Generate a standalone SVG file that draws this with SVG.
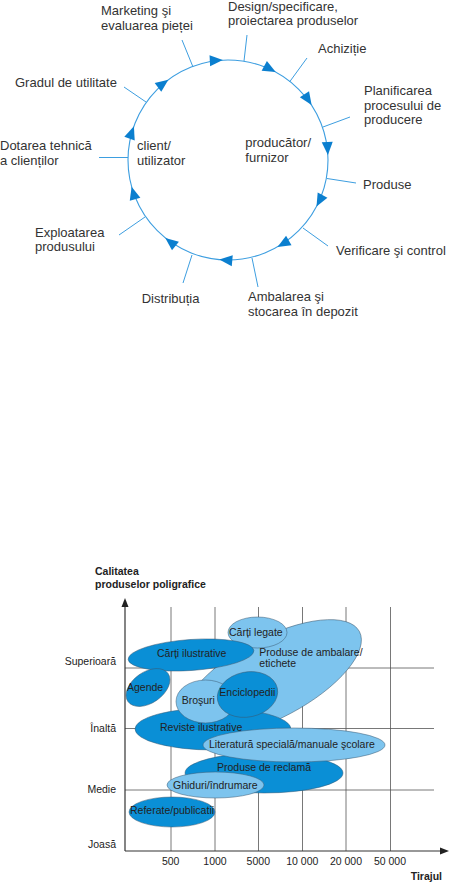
<svg xmlns="http://www.w3.org/2000/svg" xmlns:xlink="http://www.w3.org/1999/xlink" width="449" height="882" viewBox="0 0 449 882">
<style>
.t{font-family:"Liberation Sans",Arial,sans-serif;font-size:13px;fill:#333}
.c{font-family:"Liberation Sans",Arial,sans-serif;font-size:10.5px;fill:#222}
.b{font-weight:bold}
.tick{stroke:#3d9ee0;stroke-width:1;fill:none}
.ring{stroke:#3d9ee0;stroke-width:1.1;fill:none}
.dk{fill:#0a8fd6;stroke:#3a5870;stroke-width:0.5}
.lt{fill:#7dc4ee;stroke:#3a5870;stroke-width:0.5}
.grid{stroke:#555;stroke-width:0.8}
.axis{stroke:#333;stroke-width:1.2}
</style>
<defs>
<path id="ah" d="M0,0 L-13,-5.5 L-13,5.5 Z" fill="#0b7fcf"/>
</defs>
<rect width="449" height="882" fill="#fff"/>

<!-- cycle diagram -->
<g id="connectors">
<circle class="ring" cx="228" cy="160" r="100"/>
<use xlink:href="#ah" transform="translate(168.4,79.7) rotate(323.4)"/>
<use xlink:href="#ah" transform="translate(222.8,60.1) rotate(357)"/>
<use xlink:href="#ah" transform="translate(275.7,72.1) rotate(28.5)"/>
<use xlink:href="#ah" transform="translate(311.6,105.1) rotate(56.7)"/>
<use xlink:href="#ah" transform="translate(327.9,154.9) rotate(87.1)"/>
<use xlink:href="#ah" transform="translate(316.5,206.6) rotate(117.8)"/>
<use xlink:href="#ah" transform="translate(277.5,246.9) rotate(150.3)"/>
<use xlink:href="#ah" transform="translate(219.3,259.6) rotate(185)"/>
<use xlink:href="#ah" transform="translate(165.3,237.9) rotate(218.8)"/>
<use xlink:href="#ah" transform="translate(131.6,186.7) rotate(254.5)"/>
<use xlink:href="#ah" transform="translate(133.9,126.3) rotate(289.7)"/>
<line class="tick" x1="193" y1="67" x2="182" y2="40"/>
<line class="tick" x1="244" y1="61" x2="247" y2="35"/>
<line class="tick" x1="289.5" y1="82" x2="307" y2="58"/>
<line class="tick" x1="323" y1="127" x2="350" y2="117"/>
<line class="tick" x1="146" y1="102" x2="124" y2="87"/>
<line class="tick" x1="128" y1="157.5" x2="99" y2="157.5"/>
<line class="tick" x1="327" y1="178.5" x2="356" y2="183"/>
<line class="tick" x1="303" y1="228" x2="328" y2="246"/>
<line class="tick" x1="252" y1="258" x2="258" y2="287"/>
<line class="tick" x1="192" y1="255" x2="183" y2="283"/>
<line class="tick" x1="145" y1="217" x2="119" y2="235"/>
</g>

<g id="n-marketing"><text class="t" x="101" y="15">Marketing şi</text><text class="t" x="101" y="29.5">evaluarea pieței</text></g>
<g id="n-design"><text class="t" x="228" y="11">Design/specificare,</text><text class="t" x="228" y="25">proiectarea produselor</text></g>
<g id="n-achizitie"><text class="t" x="318" y="53.3">Achiziție</text></g>
<g id="n-planificarea"><text class="t" x="364" y="95">Planificarea</text><text class="t" x="364" y="109.5">procesului de</text><text class="t" x="364" y="124">producere</text></g>
<g id="n-gradul"><text class="t" x="15" y="87.3">Gradul de utilitate</text></g>
<g id="n-dotarea"><text class="t" x="0" y="150">Dotarea tehnică</text><text class="t" x="0" y="165">a clienților</text></g>
<g id="n-client"><text class="t" x="137" y="150">client/</text><text class="t" x="137" y="165">utilizator</text></g>
<g id="n-producator"><text class="t" x="245.3" y="146.7">producător/</text><text class="t" x="245.3" y="161.5">furnizor</text></g>
<g id="n-produse"><text class="t" x="363" y="189.3">Produse</text></g>
<g id="n-exploatarea"><text class="t" x="35" y="236.5">Exploatarea</text><text class="t" x="35" y="251">produsului</text></g>
<g id="n-verificare"><text class="t" x="336" y="255">Verificare şi control</text></g>
<g id="n-distributia"><text class="t" x="141.7" y="302.7">Distribuția</text></g>
<g id="n-ambalarea"><text class="t" x="248" y="300.7">Ambalarea şi</text><text class="t" x="248" y="315.7">stocarea în depozit</text></g>

<!-- chart -->
<g id="chart-axes">
<line class="grid" x1="171" y1="607" x2="171" y2="851"/>
<line class="grid" x1="215" y1="607" x2="215" y2="851"/>
<line class="grid" x1="258.5" y1="607" x2="258.5" y2="851"/>
<line class="grid" x1="302.5" y1="607" x2="302.5" y2="851"/>
<line class="grid" x1="346" y1="607" x2="346" y2="851"/>
<line class="grid" x1="390.5" y1="607" x2="390.5" y2="851"/>
<line class="grid" x1="125" y1="668" x2="434" y2="668"/>
<line class="grid" x1="125" y1="728.5" x2="434" y2="728.5"/>
<line class="grid" x1="125" y1="790" x2="434" y2="790"/>
<line class="axis" x1="125" y1="851" x2="125" y2="605"/>
<line class="axis" x1="125" y1="851" x2="442" y2="851"/>
<path d="M125,598 L121.5,607 L128.5,607 Z" fill="#222"/>
<path d="M449,851 L440,847.5 L440,854.5 Z" fill="#222"/>
<text class="c b" x="95" y="575">Calitatea</text>
<text class="c b" x="95" y="587.7">produselor poligrafice</text>
<text class="c" x="116" y="665" text-anchor="end">Superioară</text>
<text class="c" x="116" y="731.7" text-anchor="end">Înaltă</text>
<text class="c" x="116" y="792.7" text-anchor="end">Medie</text>
<text class="c" x="116" y="848" text-anchor="end">Joasă</text>
<text class="c" x="170.7" y="865" text-anchor="middle">500</text>
<text class="c" x="215" y="865" text-anchor="middle">1000</text>
<text class="c" x="258.3" y="865" text-anchor="middle">5000</text>
<text class="c" x="302.3" y="865" text-anchor="middle">10 000</text>
<text class="c" x="346" y="865" text-anchor="middle">20 000</text>
<text class="c" x="390" y="865" text-anchor="middle">50 000</text>
<text class="c b" x="442" y="880" text-anchor="end">Tirajul</text>
</g>

<g id="e-ambalare"><ellipse class="lt" cx="272" cy="678" rx="99" ry="40" transform="rotate(-28 272 678)"/></g>
<g id="e-carti-legate"><ellipse class="lt" cx="257.5" cy="632.5" rx="29.5" ry="15.5"/><text class="c" x="229" y="636.3">Cărți legate</text></g>
<g id="e-ambalare-label"><text class="c" x="259.3" y="655.7">Produse de ambalare/</text><text class="c" x="259.3" y="667.3">etichete</text></g>
<g id="e-carti-ilustrative"><ellipse class="dk" cx="191" cy="655" rx="63" ry="15.5" transform="rotate(-4 191 655)"/><text class="c" x="157" y="657.3">Cărți ilustrative</text></g>
<g id="e-agende"><ellipse class="dk" cx="148" cy="687.5" rx="24.5" ry="15.5" transform="rotate(-35 148 687.5)"/><text class="c" x="127" y="691">Agende</text></g>
<g id="e-reviste"><ellipse class="dk" cx="213" cy="729" rx="78" ry="21"/><text class="c" x="160" y="731">Reviste ilustrative</text></g>
<g id="e-reclama"><ellipse class="dk" cx="264" cy="773" rx="79" ry="20"/><text class="c" x="217" y="770.7">Produse de reclamă</text></g>
<g id="e-brosuri"><ellipse class="lt" cx="205.5" cy="701.5" rx="29.5" ry="21.5"/><text class="c" x="181.7" y="704">Broşuri</text></g>
<g id="e-enciclopedii"><ellipse class="dk" cx="247.5" cy="694.5" rx="30.5" ry="22.5" transform="rotate(-12 247.5 694.5)"/><text class="c" x="219.3" y="696">Enciclopedii</text></g>
<g id="e-literatura"><ellipse class="lt" cx="294" cy="745" rx="91" ry="17"/><text class="c" x="209" y="747.7">Literatură specială/manuale şcolare</text></g>
<g id="e-ghiduri"><ellipse class="lt" cx="215.5" cy="785" rx="48.5" ry="13"/><text class="c" x="173" y="789.3">Ghiduri/îndrumare</text></g>
<g id="e-referate"><ellipse class="dk" cx="172" cy="812" rx="43" ry="15"/><text class="c" x="130" y="814">Referate/publicatii</text></g>
</svg>
